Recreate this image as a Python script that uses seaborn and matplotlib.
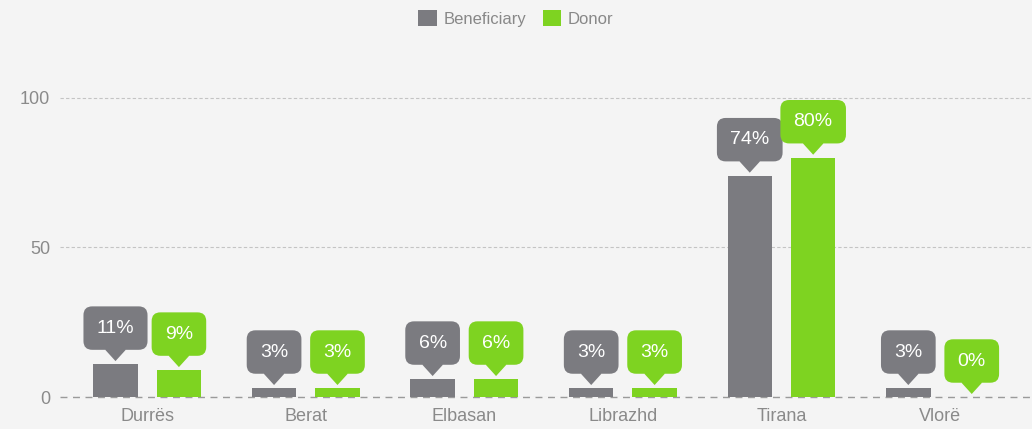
import numpy as np
import pandas as pd
import seaborn as sns
import matplotlib.pyplot as plt
from matplotlib.patches import Polygon, Patch
from matplotlib.transforms import IdentityTransform

regions = ["Durrës", "Berat", "Elbasan", "Librazhd", "Tirana", "Vlorë"]
beneficiary = [11, 3, 6, 3, 74, 3]
donor = [9, 3, 6, 3, 80, 0]
series = ["Beneficiary", "Donor"]
colors = ["#7b7b80", "#7ed321"]
yticks = [0, 50, 100]

df = pd.DataFrame({
    "Region": regions * 2,
    "Type": [series[0]] * len(regions) + [series[1]] * len(regions),
    "Value": beneficiary + donor,
})

bg = "#f4f4f4"
sns.set_theme(style="white")
plt.rcParams['font.family'] = ['Liberation Sans', 'DejaVu Sans']

W, H = 1032, 429
fig = plt.figure(figsize=(W / 100, H / 100), dpi=100, facecolor=bg)
ax = fig.add_axes([60 / W, 32 / H, 1 - 60 / W, (397 - 65) / H])
ax.set_facecolor(bg)

sns.barplot(data=df, x="Region", y="Value", hue="Type", palette=colors,
            width=0.8, gap=0.3, saturation=1, ax=ax, legend=False, zorder=3,
            linewidth=0, edgecolor="none")

ax.set_xlim(-0.55, 5.58)
ax.set_ylim(0, 111)
ax.set_yticks(yticks)
ax.set_xlabel("")
ax.set_ylabel("")
for s in ax.spines.values():
    s.set_visible(False)
ax.yaxis.grid(True, linestyle=(0, (3, 2)), color="#c4c4c4", lw=0.8, zorder=0)
ax.xaxis.grid(False)
ax.axhline(0, color="#9a9a9a", lw=1.0, linestyle=(0, (5, 4)), clip_on=False, zorder=2)
ax.tick_params(axis="y", length=0, labelsize=13, labelcolor="#8a8a8a", pad=7)
ax.tick_params(axis="x", length=0, labelsize=13, labelcolor="#8a8a8a", pad=8)

# callouts
for ci, cont in enumerate(ax.containers):
    col = colors[ci]
    vals = beneficiary if ci == 0 else donor
    for p, v in zip(cont.patches, vals):
        x = p.get_x() + p.get_width() / 2
        h = p.get_height()
        px, py = ax.transData.transform((x, h))
        tip = py + 3
        tri = Polygon([(px - 10, tip + 16), (px + 10, tip + 16), (px + 10, tip + 11),
                       (px, tip), (px - 10, tip + 11)],
                      closed=True, fc=col, ec="none", transform=IdentityTransform(),
                      zorder=4)
        fig.patches.append(tri)
        tri.set_figure(fig)
        ax.annotate(f"{v}%", xy=(x, h), xytext=(0, 36), textcoords="offset pixels",
                    ha="center", va="center", color="white", fontsize=14,
                    bbox=dict(boxstyle="round,pad=0.68,rounding_size=0.45",
                              fc=col, ec="none"),
                    zorder=5, annotation_clip=False)

handles = [Patch(fc=c, ec="none", label=s) for s, c in zip(series, colors)]
fig.legend(handles=handles, loc="upper center", bbox_to_anchor=(0.5, 1.012), ncol=2,
           frameon=False, fontsize=12, handlelength=1.1, handleheight=1.1,
           handletextpad=0.4, columnspacing=1.0, labelcolor="#888888")

fig.savefig("out.png", dpi=100, facecolor=bg)
